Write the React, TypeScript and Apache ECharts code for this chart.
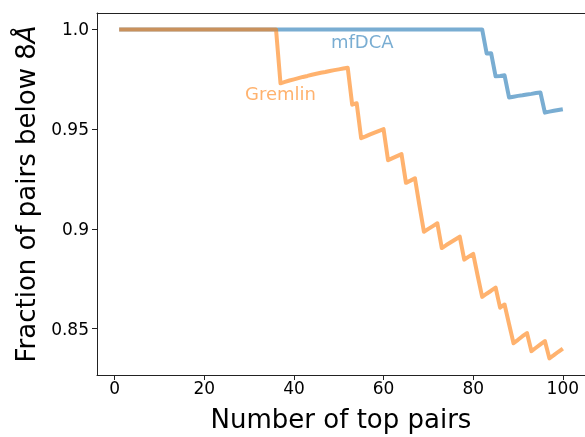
import React, { useEffect, useRef } from "react";
import * as echarts from "echarts";

const topPairs: number[] = Array.from({ length: 100 }, (_, i) => i + 1);

const mfdcaFraction: number[] = [
  1, 1, 1, 1, 1, 1, 1, 1, 1, 1,
  1, 1, 1, 1, 1, 1, 1, 1, 1, 1,
  1, 1, 1, 1, 1, 1, 1, 1, 1, 1,
  1, 1, 1, 1, 1, 1, 1, 1, 1, 1,
  1, 1, 1, 1, 1, 1, 1, 1, 1, 1,
  1, 1, 1, 1, 1, 1, 1, 1, 1, 1,
  1, 1, 1, 1, 1, 1, 1, 1, 1, 1,
  1, 1, 1, 1, 1, 1, 1, 1, 1, 1,
  1, 1, 0.988, 0.9881, 0.9765, 0.9767, 0.977, 0.9659, 0.9663, 0.9667,
  0.967, 0.9674, 0.9677, 0.9681, 0.9684, 0.9583, 0.9588, 0.9592, 0.9596, 0.96,
];

const gremlinFraction: number[] = [
  1, 1, 1, 1, 1, 1, 1, 1, 1, 1,
  1, 1, 1, 1, 1, 1, 1, 1, 1, 1,
  1, 1, 1, 1, 1, 1, 1, 1, 1, 1,
  1, 1, 1, 1, 1, 1, 0.973, 0.9737, 0.9744, 0.975,
  0.9756, 0.9762, 0.9767, 0.9773, 0.9778, 0.9783, 0.9787, 0.9792, 0.9796, 0.98,
  0.9804, 0.9808, 0.9623, 0.963, 0.9455, 0.9464, 0.9474, 0.9483, 0.9492, 0.95,
  0.9344, 0.9355, 0.9365, 0.9375, 0.9231, 0.9242, 0.9254, 0.9118, 0.8986, 0.9,
  0.9014, 0.9028, 0.8904, 0.8919, 0.8933, 0.8947, 0.8961, 0.8846, 0.8861, 0.8875,
  0.8765, 0.8659, 0.8675, 0.869, 0.8706, 0.8605, 0.8621, 0.8523, 0.8427, 0.8444,
  0.8462, 0.8478, 0.8387, 0.8404, 0.8421, 0.8438, 0.8351, 0.8367, 0.8384, 0.84,
];

const xTicks: number[] = [0, 20, 40, 60, 80, 100];
const yTicks: number[] = [0.85, 0.9, 0.95, 1.0];
const yTickLabels: string[] = ["0.85", "0.9", "0.95", "1.0"];

const BLUE = "rgba(31,119,180,0.6)";
const ORANGE = "rgba(255,127,14,0.6)";
const FONT = "DejaVu Sans";
const X_MIN = -3.95;
const X_MAX = 104.95;

export default function App() {
  const ref = useRef<HTMLDivElement>(null);
  useEffect(() => {
    if (!ref.current) return;
    const chart = echarts.init(ref.current, null, { renderer: "svg" });
    chart.setOption({
      animation: false,
      grid: {
        left: 97,
        top: 13,
        right: -1,
        bottom: 57,
        show: false,
      },
      xAxis: [
        {
          type: "value",
          min: X_MIN,
          max: X_MAX,
          splitLine: { show: false },
          axisLine: { show: true, onZero: false, lineStyle: { color: "#222", width: 1 } },
          axisTick: { show: true, length: 5, customValues: xTicks, lineStyle: { color: "#222" } },
          axisLabel: {
            customValues: xTicks,
            margin: 4,
            fontFamily: FONT,
            fontSize: 17,
            color: "#000",
          },
          name: "Number of top pairs",
          nameLocation: "middle",
          nameGap: 31,
          nameTextStyle: { fontFamily: FONT, fontSize: 26, color: "#000" },
        },
        {
          type: "value",
          position: "top",
          min: X_MIN,
          max: X_MAX,
          splitLine: { show: false },
          axisLine: { show: true, onZero: false, lineStyle: { color: "#222", width: 1 } },
          axisTick: { show: false },
          axisLabel: { show: false },
        },
      ],
      yAxis: {
        type: "value",
        min: 0.82675,
        max: 1.00825,
        splitLine: { show: false },
        axisLine: { show: true, onZero: false, lineStyle: { color: "#222", width: 1 } },
        axisTick: { show: true, length: 5, customValues: yTicks, lineStyle: { color: "#222" } },
        axisLabel: {
          customValues: yTicks,
          margin: 8,
          fontFamily: FONT,
          fontSize: 17,
          color: "#000",
          formatter: (v: number) => {
            const i = yTicks.findIndex((t) => Math.abs(t - v) < 1e-9);
            return i >= 0 ? yTickLabels[i] : "";
          },
        },
        name: "Fraction of pairs below 8{it|Å}",
        nameLocation: "middle",
        nameRotate: 90,
        nameGap: 58,
        nameTextStyle: {
          fontFamily: FONT,
          fontSize: 26,
          color: "#000",
          rich: { it: { fontFamily: FONT, fontSize: 26, fontStyle: "italic", color: "#000" } },
        },
      },
      series: [
        {
          name: "mfDCA",
          type: "line",
          xAxisIndex: 0,
          data: topPairs.map((x, i) => [x, mfdcaFraction[i]]),
          showSymbol: false,
          symbol: "none",
          lineStyle: { color: "#1f77b4", opacity: 0.6, width: 4, join: "round" },
          itemStyle: { color: "#1f77b4" },
        },
        {
          name: "Gremlin",
          type: "line",
          xAxisIndex: 0,
          data: topPairs.map((x, i) => [x, gremlinFraction[i]]),
          showSymbol: false,
          symbol: "none",
          lineStyle: { color: "#ff7f0e", opacity: 0.6, width: 4, join: "round" },
          itemStyle: { color: "#ff7f0e" },
        },
      ],
      graphic: [
        {
          type: "text",
          left: 331,
          top: 32,
          style: { text: "mfDCA", font: `18px "${FONT}"`, fill: BLUE },
        },
        {
          type: "text",
          left: 245,
          top: 84,
          style: { text: "Gremlin", font: `18px "${FONT}"`, fill: ORANGE },
        },
      ],
    });
    return () => chart.dispose();
  }, []);
  return (
    <div
      ref={ref}
      style={{ position: "fixed", left: 0, top: 0, width: 585, height: 437 }}
    />
  );
}
